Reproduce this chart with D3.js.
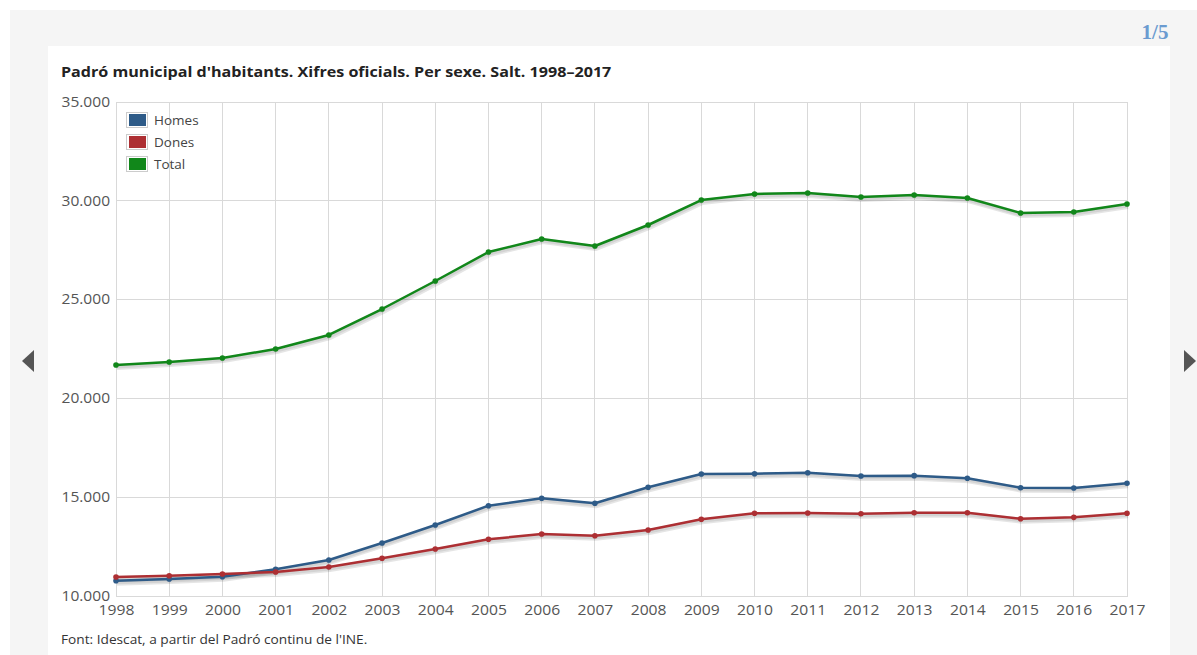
<!DOCTYPE html>
<html>
<head>
<meta charset="utf-8">
<script src="https://cdn.jsdelivr.net/npm/d3@7"></script>
<style>
html,body{margin:0;padding:0;background:#fff;}
svg{display:block;}
text{font-family:"Open Sans",sans-serif;}
</style>
</head>
<body>
<svg id="chart" width="1197" height="655"></svg>
<script>
const years = [1998,1999,2000,2001,2002,2003,2004,2005,2006,2007,2008,2009,2010,2011,2012,2013,2014,2015,2016,2017];
const homes = [10775,10860,10977,11350,11822,12682,13593,14570,14944,14691,15501,16174,16190,16240,16073,16090,15956,15481,15466,15703];
const dones = [10962,11028,11114,11215,11468,11907,12379,12869,13138,13052,13340,13882,14185,14201,14165,14216,14216,13912,13980,14185];
const total = [21690,21842,22045,22500,23209,24524,25941,27409,28067,27713,28775,30040,30344,30395,30192,30294,30142,29383,29433,29838];
const yTicks = [10000,15000,20000,25000,30000,35000];
const seriesNames = ["Homes","Dones","Total"];
const titleText = "Padró municipal d'habitants. Xifres oficials. Per sexe. Salt. 1998–2017";
const footerText = "Font: Idescat, a partir del Padró continu de l'INE.";
const pagerText = "1/5";

const colors = {Homes:"#2e5b88", Dones:"#ad2f33", Total:"#11871a"};
const series = [
  {name:"Homes", values:homes},
  {name:"Dones", values:dones},
  {name:"Total", values:total}
];

const svg = d3.select("#chart");
const loc = d3.formatLocale({decimal:",", thousands:".", grouping:[3], currency:["",""]});
const fmt = loc.format(",.0f");

// widen text horizontally to match the reference's wider glyphs
function stretch(sel, k){
  sel.each(function(){
    const w = this.getComputedTextLength();
    d3.select(this).attr("textLength", w*k).attr("lengthAdjust","spacingAndGlyphs");
  });
}

// backgrounds
svg.append("rect").attr("x",10).attr("y",10).attr("width",1187).attr("height",645).attr("fill","#f5f5f5");
svg.append("rect").attr("x",48).attr("y",46).attr("width",1122).attr("height",609).attr("fill","#ffffff");

// pager
svg.append("text").attr("x",1155).attr("y",39).attr("text-anchor","middle")
  .style("font-family","'Liberation Serif',serif").style("font-weight","bold").style("font-size","21px")
  .attr("fill","#6b9bd0").text(pagerText);

// arrows
svg.append("path").attr("d","M34,350 L22,361 L34,372 Z").attr("fill","#555");
svg.append("path").attr("d","M1184,350 L1196,361 L1184,372 Z").attr("fill","#555");

// title
const title = svg.append("text").attr("x",61).attr("y",77).style("font-weight","bold").style("font-size","14px")
  .attr("fill","#222").text(titleText);
stretch(title, 1.15);

const x = d3.scalePoint().domain(years).range([116,1127]);
const y = d3.scaleLinear().domain([10000,35000]).range([596,102]);

// grid
const g = svg.append("g");
g.selectAll(".vg").data(years).enter().append("line")
  .attr("x1",d=>x(d)).attr("x2",d=>x(d)).attr("y1",y(35000)).attr("y2",y(10000))
  .attr("stroke","#d9d9d9").attr("stroke-width",1).attr("shape-rendering","crispEdges");
g.selectAll(".hg").data(yTicks).enter().append("line")
  .attr("x1",x(1998)).attr("x2",x(2017)+1).attr("y1",d=>y(d)).attr("y2",d=>y(d))
  .attr("stroke","#d9d9d9").attr("stroke-width",1).attr("shape-rendering","crispEdges");

// y axis labels
const yAxis = d3.axisLeft(y).tickValues(yTicks).tickFormat(fmt).tickSize(0).tickPadding(6);
const ya = svg.append("g").attr("transform",`translate(${x(1998)},0)`).call(yAxis);
ya.select(".domain").remove();
ya.selectAll("text").style("font-family","'Open Sans',sans-serif").style("font-size","14px")
  .attr("fill","#555").attr("dy","0.3em");
stretch(ya.selectAll("text"), 1.11);

// x axis labels
const xAxis = d3.axisBottom(x).tickSize(0).tickPadding(9);
const xa = svg.append("g").attr("transform",`translate(0,${y(10000)})`).call(xAxis);
xa.select(".domain").remove();
xa.selectAll("text").style("font-family","'Open Sans',sans-serif").style("font-size","14px")
  .attr("fill","#555");
stretch(xa.selectAll("text"), 1.12);

// lines
const line = d3.line().x((d,i)=>x(years[i])).y(d=>y(d));
series.forEach(s=>{
  svg.append("path").datum(s.values).attr("d",line).attr("fill","none")
    .attr("stroke","rgba(0,0,0,0.10)").attr("stroke-width",6).attr("transform","translate(1,2)")
    .attr("stroke-linejoin","round");
  svg.append("path").datum(s.values).attr("d",line).attr("fill","none")
    .attr("stroke","rgba(0,0,0,0.08)").attr("stroke-width",4).attr("transform","translate(0.5,1.5)")
    .attr("stroke-linejoin","round");
});
series.forEach(s=>{
  svg.append("path").datum(s.values).attr("d",line).attr("fill","none")
    .attr("stroke",colors[s.name]).attr("stroke-width",2.5).attr("stroke-linejoin","round");
  svg.selectAll(null).data(s.values).enter().append("circle")
    .attr("cx",(d,i)=>x(years[i])).attr("cy",d=>y(d)).attr("r",2.8).attr("fill",colors[s.name]);
});

// legend
const leg = svg.append("g").attr("transform","translate(126,112)");
seriesNames.forEach((n,i)=>{
  const gy = i*22;
  leg.append("rect").attr("x",0.5).attr("y",gy+0.5).attr("width",21).attr("height",15)
    .attr("fill","#fff").attr("stroke","#cccccc");
  leg.append("rect").attr("x",3).attr("y",gy+2).attr("width",17).attr("height",12).attr("fill",colors[n]);
  leg.append("text").attr("x",28).attr("y",gy+8).attr("dy","0.35em").style("font-size","13.5px")
    .attr("fill","#444").text(n);
});

// footer
const foot = svg.append("text").attr("x",61).attr("y",644).style("font-size","12px").attr("fill","#333").text(footerText);
stretch(foot, 1.14);
</script>
</body>
</html>
